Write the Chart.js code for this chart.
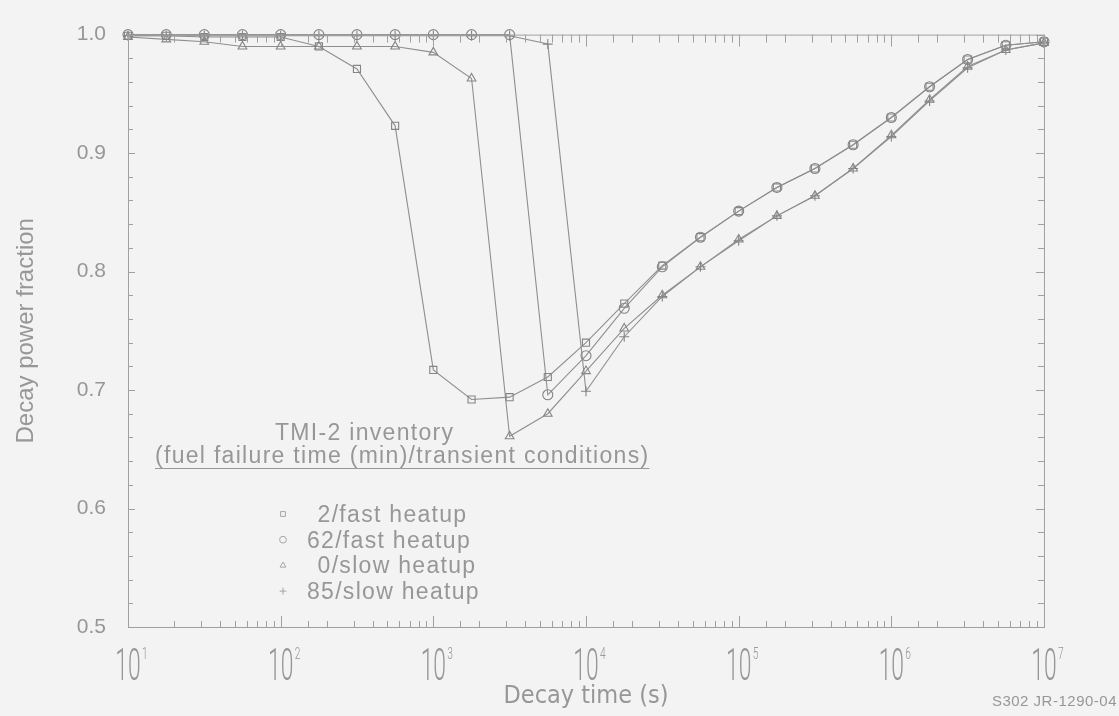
<!DOCTYPE html>
<html>
<head>
<meta charset="utf-8">
<script src="https://cdn.jsdelivr.net/npm/chart.js@4/dist/chart.umd.min.js"></script>
<style>
  html, body { margin: 0; padding: 0; background: #f3f3f3; }
  #wrap { width: 1119px; height: 716px; }
</style>
</head>
<body>
<div id="wrap"><canvas id="decayChart" width="1119" height="716"></canvas></div>
<script>
// decay time (s), quarter-decade steps
const decayTimes = [10, 17.8, 31.6, 56.2, 100, 178, 316, 562, 1000, 1780, 3160, 5620,
  10000, 17800, 31600, 56200, 100000, 178000, 316000, 562000,
  1000000, 1780000, 3160000, 5620000, 10000000];

// decay power fraction per case
const fast2 = [0.999, 0.999, 0.998, 0.998, 0.998, 0.990, 0.971, 0.923, 0.717, 0.692, 0.694, 0.711,
  0.740, 0.773, 0.805, 0.829, 0.851, 0.871, 0.887, 0.907, 0.930, 0.956, 0.979, 0.991, 0.994];
const fast62 = [1.000, 1.000, 1.000, 1.000, 1.000, 1.000, 1.000, 1.000, 1.000, 1.000, 1.000, 0.696,
  0.729, 0.769, 0.804, 0.829, 0.851, 0.871, 0.887, 0.907, 0.930, 0.956, 0.979, 0.991, 0.994];
const slow0 = [0.998, 0.996, 0.994, 0.990, 0.990, 0.990, 0.990, 0.990, 0.985, 0.963, 0.661, 0.680,
  0.716, 0.752, 0.780, 0.804, 0.827, 0.847, 0.864, 0.887, 0.915, 0.945, 0.973, 0.987, 0.993];
const slow85 = [0.999, 0.999, 0.999, 0.999, 0.999, 0.999, 0.999, 0.999, 0.999, 0.999, 0.999, 0.992,
  0.699, 0.745, 0.779, 0.804, 0.826, 0.847, 0.864, 0.887, 0.914, 0.944, 0.972, 0.987, 0.993];

const seriesLabels = ['2/fast heatup', '62/fast heatup', '0/slow heatup', '85/slow heatup'];
const seriesMarkers = ['rect', 'circle', 'triangle', 'cross'];

const xLabelValues = [10, 100, 1000, 10000, 100000, 1000000, 10000000];
const xLabelExponents = ['1', '2', '3', '4', '5', '6', '7'];

const inventoryTitle = 'TMI-2 inventory';
const inventorySubtitle = '(fuel failure time (min)/transient conditions)';
const figureId = 'S302 JR-1290-04';

const ink = '#979797';
const lineInk = '#8f8f8f';
const frameInk = '#a0a0a0';
const baseFont = "'Liberation Sans', Arial, sans-serif";

function toPoints(values) {
  return decayTimes.map((t, i) => ({ x: t, y: values[i] }));
}

function makeSet(label, values, marker) {
  return {
    label: label,
    data: toPoints(values),
    borderColor: lineInk,
    borderWidth: 1.1,
    pointStyle: marker,
    pointRadius: 5,
    pointBorderColor: '#858585',
    pointBackgroundColor: 'rgba(0,0,0,0)',
    pointBorderWidth: 1.1,
    tension: 0,
    fill: false,
    clip: false
  };
}

// inward tick marks on all four sides, plus the top and right frame lines
const frameTicks = {
  id: 'frameTicks',
  afterDraw(chart) {
    const { ctx, chartArea: a, scales: { x, y } } = chart;
    ctx.save();
    ctx.strokeStyle = frameInk;
    ctx.lineWidth = 1;
    ctx.beginPath();
    ctx.moveTo(a.left, a.top + 0.5);
    ctx.lineTo(a.right + 0.5, a.top + 0.5);
    ctx.lineTo(a.right + 0.5, a.bottom);
    ctx.stroke();

    ctx.beginPath();
    x.ticks.forEach(t => {
      const lg = Math.log10(t.value);
      const major = Math.abs(lg - Math.round(lg)) < 1e-6;
      const px = Math.round(x.getPixelForValue(t.value)) + 0.5;
      ctx.moveTo(px, a.bottom);
      ctx.lineTo(px, a.bottom - (major ? 11 : 6));
      ctx.moveTo(px, a.top);
      ctx.lineTo(px, a.top + (major ? 12 : 8));
    });
    y.ticks.forEach(t => {
      const major = Math.abs(t.value * 10 - Math.round(t.value * 10)) < 1e-6;
      const py = Math.round(y.getPixelForValue(t.value)) + 0.5;
      ctx.moveTo(a.left, py);
      ctx.lineTo(a.left + (major ? 7 : 5), py);
      ctx.moveTo(a.right, py);
      ctx.lineTo(a.right - (major ? 8 : 6), py);
    });
    ctx.stroke();
    ctx.restore();
  }
};

// decade labels written as 10 with a raised exponent
const decadeLabels = {
  id: 'decadeLabels',
  afterDraw(chart) {
    const { ctx, scales: { x } } = chart;
    ctx.save();
    ctx.fillStyle = ink;
    xLabelValues.forEach((v, i) => {
      const px = x.getPixelForValue(v);
      ctx.save();
      ctx.translate(px, 680);
      ctx.scale(0.52, 1);
      ctx.font = "300 44px 'Roboto', " + baseFont;
      ctx.textAlign = 'center';
      ctx.fillText('10', 0, 0);
      ctx.restore();
      ctx.save();
      ctx.translate(px + 14, 659);
      ctx.scale(0.6, 1);
      ctx.font = "300 17px 'Roboto', " + baseFont;
      ctx.textAlign = 'left';
      ctx.fillText(xLabelExponents[i], 0, 0);
      ctx.restore();
    });
    ctx.font = '15px ' + baseFont;
    ctx.textAlign = 'right';
    ctx.letterSpacing = '0.5px';
    ctx.fillText(figureId, 1117, 706);
    ctx.restore();
  }
};

// inventory caption and the in-plot key
const caption = {
  id: 'caption',
  afterDraw(chart) {
    const ctx = chart.ctx;
    ctx.save();
    ctx.fillStyle = ink;
    ctx.strokeStyle = ink;
    ctx.letterSpacing = '1.3px';
    ctx.font = '23px ' + baseFont;
    ctx.textAlign = 'left';
    ctx.fillText(inventoryTitle, 275, 440);
    ctx.fillText(inventorySubtitle, 155, 463);
    const w = ctx.measureText(inventorySubtitle).width;
    ctx.lineWidth = 1;
    ctx.beginPath();
    ctx.moveTo(155, 468.5);
    ctx.lineTo(155 + w, 468.5);
    ctx.stroke();

    const digitW = ctx.measureText('8').width;
    chart.data.datasets.forEach((ds, i) => {
      const cy = 514 + i * 25.7;
      ctx.save();
      ctx.fillStyle = 'rgba(0,0,0,0)';
      ctx.strokeStyle = '#a5a5a5';
      ctx.lineWidth = 1;
      Chart.helpers.drawPoint(ctx, { pointStyle: ds.pointStyle, radius: 3.4, rotation: 0, borderWidth: 1 }, 283, cy);
      ctx.restore();
      const label = ds.label;
      const lead = label.indexOf('/') === 1 ? digitW * 0.75 : 0;
      ctx.fillText(label, 307 + lead, cy + 8);
    });
    ctx.restore();
  }
};

Chart.defaults.font.family = baseFont;
Chart.defaults.color = ink;

new Chart(document.getElementById('decayChart'), {
  type: 'line',
  data: {
    datasets: [
      makeSet(seriesLabels[0], fast2, seriesMarkers[0]),
      makeSet(seriesLabels[1], fast62, seriesMarkers[1]),
      makeSet(seriesLabels[2], slow0, seriesMarkers[2]),
      makeSet(seriesLabels[3], slow85, seriesMarkers[3])
    ]
  },
  options: {
    responsive: false,
    animation: false,
    layout: { padding: { left: 0, right: 75, top: 22, bottom: 0 } },
    plugins: { legend: { display: false }, tooltip: { enabled: false } },
    scales: {
      x: {
        type: 'logarithmic',
        min: 10,
        max: 10000000,
        grid: { display: false, drawTicks: false },
        border: { display: true, color: frameInk, width: 1 },
        ticks: { display: false },
        title: {
          display: true,
          text: 'Decay time (s)',
          color: ink,
          font: { size: 25, family: "'Liberation Sans Narrow', 'DejaVu Sans Condensed', sans-serif" },
          padding: { top: 0, bottom: 5 }
        },
        afterFit(scale) { scale.height = 89; }
      },
      y: {
        min: 0.5,
        max: 1.0,
        grid: { display: false, drawTicks: false },
        border: { display: true, color: frameInk, width: 1 },
        ticks: {
          stepSize: 0.02,
          autoSkip: false,
          padding: 22,
          color: ink,
          font: { size: 21 },
          callback(v) {
            return Math.abs(v * 10 - Math.round(v * 10)) < 1e-6 ? v.toFixed(1) : '';
          }
        },
        title: {
          display: true,
          text: 'Decay power fraction',
          color: ink,
          font: { size: 24 },
          padding: { top: 12, bottom: 0 }
        },
        afterFit(scale) { scale.width = 128; }
      }
    }
  },
  plugins: [frameTicks, decadeLabels, caption]
});
</script>
</body>
</html>
